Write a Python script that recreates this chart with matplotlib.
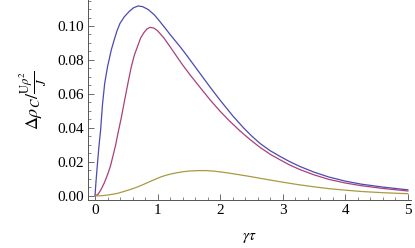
import numpy as np
import matplotlib
matplotlib.use("Agg")
import matplotlib.pyplot as plt
from matplotlib.ticker import MultipleLocator

# values
blue_x = [0, 0.015, 0.03, 0.06, 0.09, 0.12, 0.155, 0.2, 0.26, 0.3, 0.35, 0.40, 0.47,
          0.55, 0.62, 0.69, 0.76, 0.85, 0.95, 1.04, 1.12, 1.20, 1.28, 1.36, 1.44,
          1.52, 1.68, 1.84, 2.0, 2.2, 2.37, 2.5, 2.64, 2.8, 2.96, 3.1, 3.27, 3.5,
          3.73, 4.0, 4.26, 4.6, 5.0]
blue_y = [0, 0.008, 0.015, 0.028, 0.039, 0.054, 0.0663, 0.076, 0.0859, 0.091,
          0.097, 0.1016, 0.1055, 0.1087, 0.1108, 0.1118, 0.1114, 0.1097, 0.1065,
          0.1025, 0.0988, 0.0950, 0.0914, 0.0878, 0.0840, 0.0800, 0.0720, 0.0640,
          0.0563, 0.0472, 0.0402, 0.0354, 0.0308, 0.0266, 0.0232, 0.0204, 0.0174,
          0.0140, 0.0112, 0.0087, 0.0069, 0.0052, 0.0036]

red_x = [0, 0.05, 0.10, 0.15, 0.208, 0.25, 0.29, 0.33, 0.367, 0.42, 0.474, 0.53,
         0.58, 0.63, 0.68, 0.73, 0.78, 0.83, 0.88, 0.94, 1.0, 1.1, 1.2, 1.3, 1.4,
         1.52, 1.68, 1.84, 2.0, 2.15, 2.316, 2.47, 2.636, 2.8, 2.955, 3.1, 3.275,
         3.5, 3.73, 4.0, 4.26, 4.6, 5.0]
red_y = [0, 0.001, 0.004, 0.0078, 0.0133, 0.018, 0.024, 0.030, 0.0369, 0.046,
         0.0565, 0.067, 0.076, 0.083, 0.088, 0.093, 0.096, 0.0983, 0.0992, 0.0988,
         0.0972, 0.0930, 0.0878, 0.0824, 0.0771, 0.0712, 0.0638, 0.0565, 0.0498,
         0.0441, 0.0383, 0.0334, 0.0286, 0.0245, 0.0213, 0.0184, 0.0155, 0.0124,
         0.0098, 0.0076, 0.0060, 0.0044, 0.0029]

yel_x = [0, 0.1, 0.2, 0.3, 0.37, 0.45, 0.55, 0.65, 0.74, 0.82, 0.9, 1.04, 1.12,
         1.2, 1.3, 1.4, 1.52, 1.65, 1.78, 1.9, 2.05, 2.2, 2.35, 2.5, 2.65, 2.79,
         3.0, 3.2, 3.45, 3.73, 4.0, 4.26, 4.6, 5.0]
yel_y = [0, 0.0001, 0.0005, 0.0011, 0.0016, 0.0025, 0.0036, 0.0049, 0.0062,
         0.0075, 0.0088, 0.0110, 0.0120, 0.0128, 0.0136, 0.0142, 0.0147, 0.0149,
         0.0149, 0.0146, 0.0139, 0.0131, 0.0122, 0.0113, 0.0103, 0.0094, 0.0081,
         0.0069, 0.0056, 0.0043, 0.0034, 0.0026, 0.0019, 0.0013]

x_ticks = [0, 1, 2, 3, 4, 5]
y_ticks = [0.00, 0.02, 0.04, 0.06, 0.08, 0.10]

plt.rcParams["font.family"] = ["Liberation Serif", "DejaVu Serif"]
plt.rcParams["mathtext.fontset"] = "stix"

fig = plt.figure(figsize=(4.15, 2.48), dpi=100)
ax = fig.add_axes([88 / 415, 1 - 200 / 248, (411 - 88) / 415, 200 / 248])

ax.plot(blue_x, blue_y, color="#4a4ab4", lw=0.9, solid_joinstyle="round")
ax.plot(red_x, red_y, color="#aa3f7c", lw=0.9, solid_joinstyle="round")
ax.plot(yel_x, yel_y, color="#a99a42", lw=0.9, solid_joinstyle="round")

ax.set_xlim(-0.112, 5.05)
ax.set_ylim(-0.0024, 0.1153)

for s in ["top", "right"]:
    ax.spines[s].set_visible(False)
for s in ["left", "bottom"]:
    ax.spines[s].set_color("#555555")
    ax.spines[s].set_linewidth(0.7)

ax.set_xticks(x_ticks)
ax.set_xticklabels([str(v) for v in x_ticks])
ax.set_yticks(y_ticks)
ax.set_yticklabels(["%.2f" % v for v in y_ticks])
ax.xaxis.set_minor_locator(MultipleLocator(0.2))
ax.yaxis.set_minor_locator(MultipleLocator(0.005))
ax.tick_params(which="major", direction="in", length=4, width=0.6, color="#555555",
               labelsize=11, pad=3)
ax.tick_params(which="minor", direction="in", length=2, width=0.5, color="#555555")

ax.set_xlabel(r"$\gamma\tau$", fontsize=11, labelpad=10)
ax.set_ylabel(r"$\Delta\rho_C/\frac{\mathrm{U}\rho^2}{J}$", fontsize=13, labelpad=6)

fig.savefig("out.png", dpi=100)
